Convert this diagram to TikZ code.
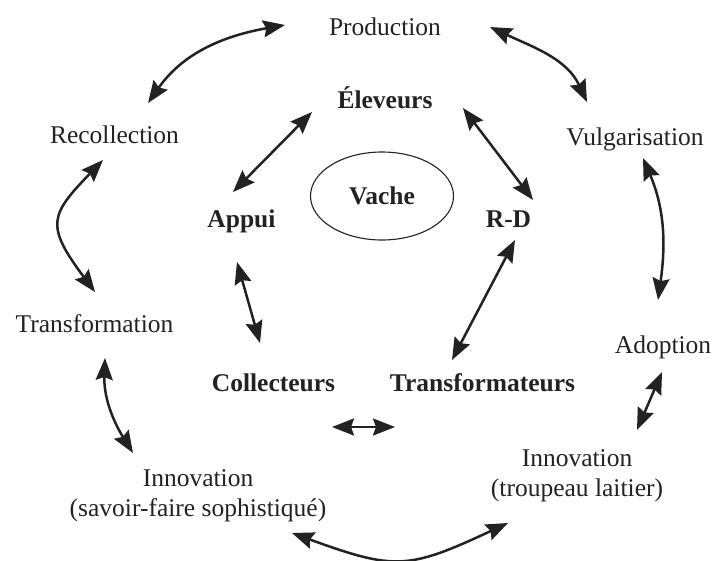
\documentclass[tikz,border=0pt]{standalone}
\usepackage{fontspec}
\setmainfont{Liberation Serif}
\usetikzlibrary{arrows.meta,calc,shapes.geometric}
\definecolor{ink}{HTML}{222222}
\begin{document}
\begin{tikzpicture}[x=1pt,y=1pt,
  lab/.style={font=\fontsize{25.5}{30.5}\selectfont, text=ink, inner sep=0pt, anchor=base},
  actor/.style={lab, font=\fontsize{25.5}{30.5}\selectfont\bfseries},
  twoline/.style={lab, align=center, anchor=center},
  hub/.style={ellipse, draw=ink, line width=1.1pt, minimum width=143pt, minimum height=88pt,
    inner sep=0pt, text=ink, font=\fontsize{25.5}{30.5}\selectfont\bfseries},
  bi/.style={{Stealth[length=22pt,width=17pt,inset=3pt]}-{Stealth[length=22pt,width=17pt,inset=3pt]},
    draw=ink, line width=2.5pt}
]
\useasboundingbox (0,-560) rectangle (714,0);

% outer ring of activities
\node[lab] (prod)   at (385,-35)   {Production};
\node[lab] (recol)  at (114.5,-143) {Recollection};
\node[lab] (vulg)   at (635,-145)  {Vulgarisation};
\node[lab] (transf) at (94.5,-332) {Transformation};
\node[lab] (adopt)  at (663,-353)  {Adoption};
\node[twoline] (innosf) at (198,-496) {Innovation\\(savoir-faire sophistiqué)};
\node[twoline] (innotl) at (577,-476) {Innovation\\(troupeau laitier)};

% inner ring of actors
\node[actor] (elev)    at (385,-108)   {Éleveurs};
\node[actor] (appui)   at (241.5,-227) {Appui};
\node[actor] (rd)      at (508.5,-227) {R-D};
\node[actor] (coll)    at (273.5,-391) {Collecteurs};
\node[actor] (transfo) at (482.5,-391) {Transformateurs};

% centre
\node[hub] (vache) at (382,-196) {Vache};

% outer cycle
\draw[bi] ($(recol.base)+(33.5,40)$) to[out=55,in=190] ($(prod.base)+(-100,10)$);
\draw[bi] ($(prod.base)+(105,8)$) to[out=-25,in=115] ($(vulg.base)+(-48,43)$);
\draw[bi] ($(recol.base)+(-11.5,-17)$) .. controls (50,-215) and (45,-225) .. ($(transf.base)+(0.5,40)$);
\draw[bi] ($(vulg.base)+(8,-13)$) to[out=293,in=82] ($(adopt.base)+(-5,53)$);
\draw[bi] ($(transf.base)+(10.5,-26)$) to[out=268,in=122] ($(innosf.center)+(-65,43)$);
\draw[bi] ($(adopt.base)+(-1,-19)$) -- ($(innotl.center)+(60,46)$);
\draw[bi] ($(innosf.center)+(94,-37)$) to[out=-20,in=205,looseness=1.3] ($(innotl.center)+(-69,-47)$);

% inner cycle
\draw[bi] ($(elev.base)+(-73,-4)$) -- ($(appui.base)+(-8.5,35)$);
\draw[bi] ($(elev.base)+(78,0)$) -- ($(rd.base)+(24.5,27)$);
\draw[bi] ($(appui.base)+(-4.5,-35)$) -- ($(coll.base)+(-13.5,48)$);
\draw[bi] ($(rd.base)+(6.5,-13)$) -- ($(transfo.base)+(-30.5,31)$);
\draw[bi] ($(coll.base)+(58.5,-36)$) -- ($(transfo.base)+(-87.5,-36)$);
\end{tikzpicture}
\end{document}
